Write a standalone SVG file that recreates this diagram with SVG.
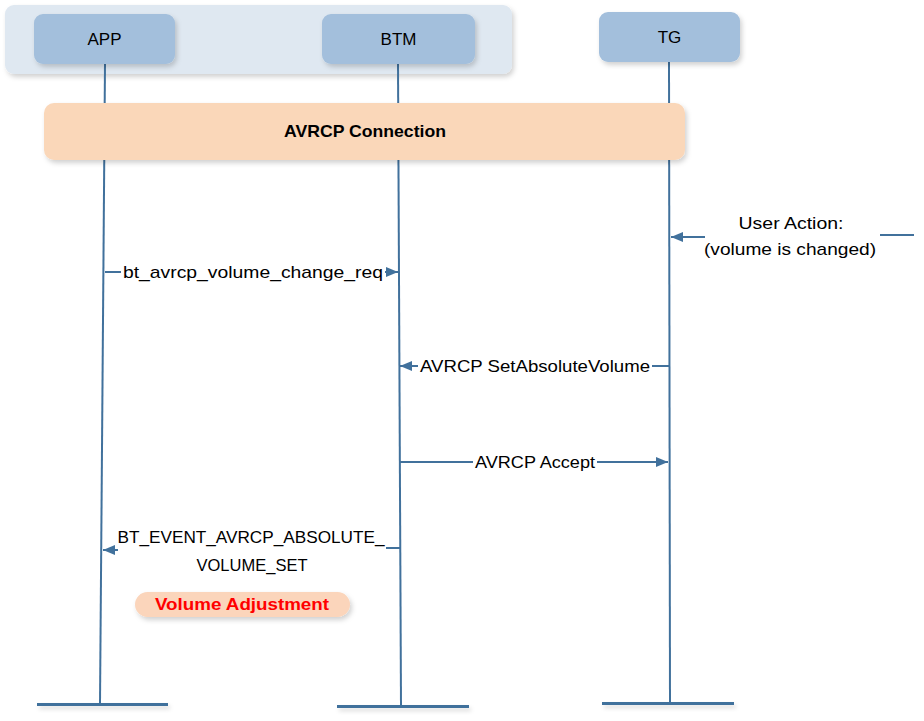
<svg xmlns="http://www.w3.org/2000/svg" width="924" height="721" viewBox="0 0 924 721">
<defs>
<filter id="sh" x="-10%" y="-20%" width="130%" height="160%">
<feDropShadow dx="2" dy="3" stdDeviation="2.5" flood-color="#000" flood-opacity="0.18"/>
</filter>
<filter id="shl" filterUnits="userSpaceOnUse" x="0" y="680" width="924" height="41">
<feDropShadow dx="2" dy="3" stdDeviation="2" flood-color="#000" flood-opacity="0.15"/>
</filter>
<marker id="ah" viewBox="0 0 12 10" refX="12" refY="5" markerWidth="12" markerHeight="10" markerUnits="userSpaceOnUse" orient="auto">
<path d="M0,0 L12,5 L0,10 Z" fill="#41719c"/>
</marker>
</defs>
<style>
.node{fill:#a3bfdc;}
.life{stroke:#41719c;stroke-width:2;fill:none;}
.foot{stroke:#41719c;stroke-width:3;fill:none;}
.msg{stroke:#41719c;stroke-width:2;fill:none;}
.t{font-family:"Liberation Sans",Arial,sans-serif;font-size:17px;fill:#000;text-anchor:middle;}
.bg{fill:#fff;}
</style>
<rect x="5" y="5" width="507" height="69" rx="9" fill="#dfe8f1" filter="url(#sh)"/>
<g id="lifelines">
<line class="life" x1="105" y1="64" x2="100" y2="704"/>
<line class="life" x1="398" y1="64" x2="401" y2="706"/>
<line class="life" x1="669" y1="62" x2="670" y2="703"/>
<g filter="url(#shl)">
<line class="foot" x1="37" y1="704.5" x2="168" y2="704.5"/>
<line class="foot" x1="337" y1="706.5" x2="469" y2="706.5"/>
<line class="foot" x1="602" y1="703.5" x2="734" y2="703.5"/>
</g>
</g>
<g id="APP"><rect class="node" x="34" y="14" width="141" height="50" rx="9" filter="url(#sh)"/><text class="t" x="104.5" y="45">APP</text></g>
<g id="BTM"><rect class="node" x="322" y="14" width="153" height="50" rx="9" filter="url(#sh)"/><text class="t" x="398.5" y="45">BTM</text></g>
<g id="TG"><rect class="node" x="599" y="12" width="141" height="50" rx="9" filter="url(#sh)"/><text class="t" x="669.5" y="43">TG</text></g>
<g id="avrcp-connection"><rect x="44" y="103" width="641" height="57" rx="10" fill="#fad7b9" filter="url(#sh)"/><text class="t" x="365" y="137" font-weight="bold" textLength="162" lengthAdjust="spacingAndGlyphs">AVRCP Connection</text></g>
<g id="connectors">
<line class="msg" x1="705" y1="237" x2="671" y2="237" marker-end="url(#ah)"/>
<line class="msg" x1="880" y1="235" x2="914" y2="235"/>
<line class="msg" x1="105" y1="272" x2="398" y2="272" marker-end="url(#ah)"/>
<line class="msg" x1="669" y1="366" x2="400" y2="366" marker-end="url(#ah)"/>
<line class="msg" x1="400" y1="462" x2="668" y2="462" marker-end="url(#ah)"/>
<polyline class="msg" points="400,548 386,548"/>
<line class="msg" x1="118" y1="550" x2="103" y2="550" marker-end="url(#ah)"/>
</g>
<g id="labels">
<text class="t" x="791" y="229" textLength="105" lengthAdjust="spacingAndGlyphs">User Action:</text>
<text class="t" x="790" y="255" textLength="172" lengthAdjust="spacingAndGlyphs">(volume is changed)</text>
<rect class="bg" x="121" y="262" width="264" height="20"/>
<text class="t" x="253" y="278" textLength="260" lengthAdjust="spacingAndGlyphs">bt_avrcp_volume_change_req</text>
<rect class="bg" x="418" y="356" width="234" height="20"/>
<text class="t" x="535" y="372" textLength="230" lengthAdjust="spacingAndGlyphs">AVRCP SetAbsoluteVolume</text>
<rect class="bg" x="473" y="452" width="124" height="20"/>
<text class="t" x="535" y="468" textLength="120" lengthAdjust="spacingAndGlyphs">AVRCP Accept</text>
<text class="t" x="251" y="543" textLength="267" lengthAdjust="spacingAndGlyphs">BT_EVENT_AVRCP_ABSOLUTE_</text>
<text class="t" x="252" y="571" textLength="111" lengthAdjust="spacingAndGlyphs">VOLUME_SET</text>
</g>
<g id="volume-adjustment"><rect x="135" y="592" width="215" height="25" rx="12.5" fill="#fbd5bb" filter="url(#sh)"/><text class="t" x="242" y="610" font-weight="bold" style="fill:#ff0000" textLength="174" lengthAdjust="spacingAndGlyphs">Volume Adjustment</text></g>
</svg>
